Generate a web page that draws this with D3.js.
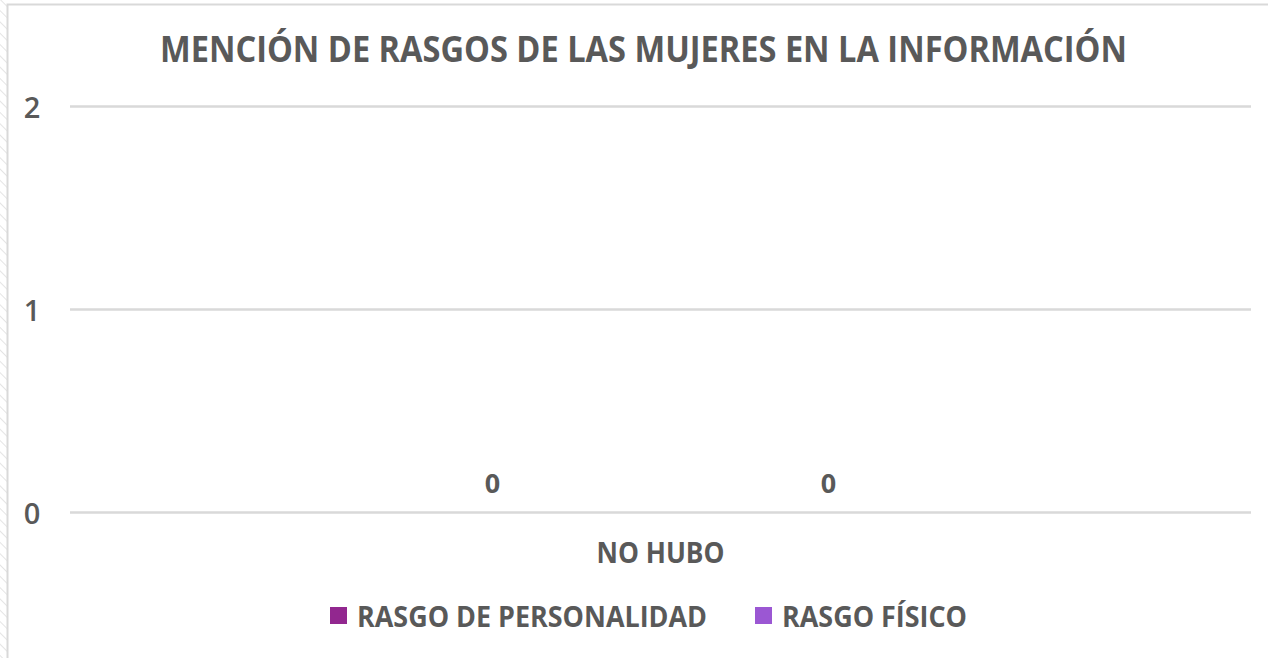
<!DOCTYPE html>
<html>
<head>
<meta charset="utf-8">
<script src="https://cdn.jsdelivr.net/npm/d3@7"></script>
<style>
  body { margin:0; background:#fff; }
  text { font-family:"Open Sans", sans-serif; font-weight:700; fill:#595959; }
</style>
</head>
<body>
<svg></svg>
<script>
var title = "MENCIÓN DE RASGOS DE LAS MUJERES EN LA INFORMACIÓN";
var categories = ["NO HUBO"];
var seriesNames = ["RASGO DE PERSONALIDAD", "RASGO FÍSICO"];
var seriesColors = ["#92278F", "#9B57D3"];
var personalidad = [0];
var fisico = [0];
var yTicks = [0, 1, 2];

var drawGraph = function()
{
  var screen = { width:1268, height:658 };

  var svg = d3.select("svg")
    .attr("width", screen.width)
    .attr("height", screen.height);

  // faint hatch at the left edge, outside the chart frame
  var defs = svg.append("defs");
  var pat = defs.append("pattern")
    .attr("id","hatch")
    .attr("width",8).attr("height",8)
    .attr("patternUnits","userSpaceOnUse")
    .attr("patternTransform","rotate(-45)");
  pat.append("line")
    .attr("x1",0).attr("y1",0).attr("x2",0).attr("y2",8)
    .attr("stroke","#e4e4e4").attr("stroke-width",2);
  svg.append("rect")
    .attr("x",0).attr("y",0).attr("width",7).attr("height",screen.height)
    .attr("fill","url(#hatch)");

  // chart frame
  svg.append("rect")
    .attr("x",7.5).attr("y",4.5)
    .attr("width",screen.width+10).attr("height",screen.height+10)
    .attr("fill","#fff")
    .attr("stroke","#d9d9d9")
    .attr("stroke-width",2);

  var margins = { top:108, bottom:144, left:70, right:17 };
  var width = screen.width - margins.left - margins.right;
  var height = 514 - 108;

  var xScale = d3.scaleBand()
    .domain(categories)
    .range([0,width])
    .paddingInner(0)
    .paddingOuter(0.3787);

  var xSeries = d3.scaleBand()
    .domain(seriesNames)
    .range([0,xScale.bandwidth()]);

  var yScale = d3.scaleLinear().domain([0,2]).range([height,0]);

  var colors = d3.scaleOrdinal().domain(seriesNames).range(seriesColors);

  var plot = svg.append("g")
    .attr("transform","translate("+margins.left+","+(margins.top-2)+")");

  // gridlines
  var yGrid = d3.axisLeft(yScale).tickValues(yTicks).tickSize(-width).tickFormat("");
  plot.append("g").call(yGrid)
    .call(function(g){ g.select(".domain").remove(); })
    .selectAll("line")
    .attr("stroke","#d9d9d9")
    .attr("stroke-width",2.5);

  // y axis labels
  var yAxis = d3.axisLeft(yScale).tickValues(yTicks).tickSize(0).tickPadding(0).tickFormat(d3.format("d"));
  plot.append("g")
    .attr("transform","translate(-38,0)")
    .call(yAxis)
    .call(function(g){ g.select(".domain").remove(); })
    .selectAll("text")
    .attr("text-anchor","middle")
    .attr("dy","0.40em")
    .style("font-size","29px")
    .style("font-family","'Open Sans', sans-serif")
    .style("font-weight","600")
    .attr("fill","#595959");

  // bars (zero height) and labels
  var rows = categories.map(function(c,i){
    return [
      { cat:c, name:seriesNames[0], value:personalidad[i] },
      { cat:c, name:seriesNames[1], value:fisico[i] }
    ];
  });

  var groups = plot.selectAll("g.cat")
    .data(rows)
    .enter()
    .append("g")
    .classed("cat",true)
    .attr("transform",function(d,i){ return "translate("+xScale(categories[i])+",0)"; });

  groups.selectAll("rect")
    .data(function(d){ return d; })
    .enter()
    .append("rect")
    .attr("x",function(d){ return xSeries(d.name); })
    .attr("y",function(d){ return yScale(d.value); })
    .attr("width",xSeries.bandwidth())
    .attr("height",function(d){ return yScale(0)-yScale(d.value); })
    .attr("fill",function(d){ return colors(d.name); });

  groups.selectAll("text.val")
    .data(function(d){ return d; })
    .enter()
    .append("text")
    .classed("val",true)
    .attr("x",function(d){ return xSeries(d.name)+xSeries.bandwidth()/2; })
    .attr("y",function(d){ return yScale(d.value)-19; })
    .attr("text-anchor","middle")
    .style("font-size","27px")
    .text(function(d){ return d.value; });

  // category label
  plot.selectAll("text.cat")
    .data(categories)
    .enter()
    .append("text")
    .classed("cat",true)
    .attr("x",function(d){ return xScale(d)+xScale.bandwidth()/2; })
    .attr("y",height+51)
    .attr("text-anchor","middle")
    .attr("textLength",128)
    .attr("lengthAdjust","spacingAndGlyphs")
    .style("font-size","28px")
    .text(function(d){ return d; });

  // title
  svg.append("text")
    .attr("x",643.5)
    .attr("y",62)
    .attr("text-anchor","middle")
    .attr("textLength",967)
    .attr("lengthAdjust","spacingAndGlyphs")
    .style("font-size","35px")
    .text(title);

  // legend
  var legendItems = [
    { name:seriesNames[0], x:330, w:350 },
    { name:seriesNames[1], x:755, w:185 }
  ];
  var legend = svg.append("g").attr("transform","translate(0,607)");
  var lines = legend.selectAll("g")
    .data(legendItems)
    .enter()
    .append("g")
    .attr("transform",function(d){ return "translate("+d.x+",0)"; });
  lines.append("rect")
    .attr("x",0).attr("y",0)
    .attr("width",17).attr("height",17)
    .attr("fill",function(d){ return colors(d.name); });
  lines.append("text")
    .attr("x",27)
    .attr("y",20)
    .attr("textLength",function(d){ return d.w; })
    .attr("lengthAdjust","spacingAndGlyphs")
    .style("font-size","28px")
    .text(function(d){ return d.name; });
};

drawGraph();
</script>
</body>
</html>
